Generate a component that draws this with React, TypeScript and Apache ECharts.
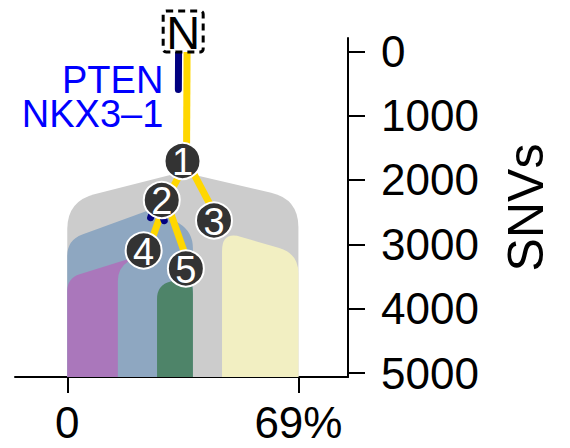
import React, { useEffect, useRef } from 'react';
import * as echarts from 'echarts';

// ---- axes ----
const xTickValues = [0, 69];
const xTickLabels = ['0', '69%'];
const yTickValues = [0, 1000, 2000, 3000, 4000, 5000];
const yAxisName = 'SNVs';
const xRange = [-15.6, 83.8];
const yRange = [-207, 5062];

// ---- tree nodes (x = cell fraction %, y = cumulative SNVs) ----
const nodeIds = ['N', '1', '2', '3', '4', '5'];
const nodeX = [34.6, 34.4, 28.2, 43.8, 22.8, 35.4];
const nodeSNV = [-308, 1705, 2311, 2630, 3096, 3376];
const edgeParent = ['N', '1', '1', '2', '2'];
const edgeChild = ['1', '2', '3', '4', '5'];

// ---- mutation marks on edges ----
const mutEdgeChild = ['1', '4', '5'];
const mutFromSNV = [-308, 2311, 2311];
const mutToSNV = [595, 2610, 2610];
const driverEdgeChild = '1';
const driverGenes = ['PTEN', 'NKX3–1'];

// ---- clone bells ----
const cloneIds = ['1', '2', '3', '4', '5'];
const cloneLeftX = [0, 0, 46.2, 0, 26.8];
const cloneLeftSNV = [2327, 2933, 2793, 3523, 3632];
const cloneApexX = [34.25, 26.2, 53.0, 20.2, 35.1];
const cloneApexSNV = [1876, 2435, 2902, 3197, 3523];
const cloneRightX = [69, 37.5, 69, 15.1, 37.5];
const cloneRightSNV = [2296, 2809, 3143, 3368, 3555];

// ---- styles ----
const FONT = 'Liberation Sans, Arial, Helvetica, sans-serif';
const cloneColor: Record<string, string> = {
  '1': '#CCCCCC',
  '2': '#8EA7C1',
  '3': '#F2EFC2',
  '4': '#AA77BB',
  '5': '#4E8469',
};
const cloneRadius: Record<string, number> = { '1': 28, '2': 16, '3': 20, '4': 13, '5': 14 };
const EDGE_COLOR = '#FFD700';
const MUT_COLOR = '#000080';
const EDGE_OFFSET = 4;
const MUT_OFFSET = -4.5;

function idx(id: string) {
  return nodeIds.indexOf(id);
}

function offsetSeg(p: number[], q: number[], off: number) {
  const dx = q[0] - p[0];
  const dy = q[1] - p[1];
  const len = Math.hypot(dx, dy) || 1;
  const nx = dy / len;
  const ny = -dx / len;
  return [p[0] + nx * off, p[1] + ny * off, q[0] + nx * off, q[1] + ny * off];
}

function toward(p: number[], q: number[], d: number) {
  const dx = q[0] - p[0];
  const dy = q[1] - p[1];
  const len = Math.hypot(dx, dy) || 1;
  const dd = Math.min(d, len * 0.9);
  return [p[0] + (dx / len) * dd, p[1] + (dy / len) * dd];
}

export default function App() {
  const ref = useRef<HTMLDivElement>(null);

  useEffect(() => {
    if (!ref.current) return;
    const chart = echarts.init(ref.current, undefined, { renderer: 'svg' });

    const option: any = {
      animation: false,
      textStyle: { fontFamily: FONT },
      grid: { left: 15, right: 222, top: 38, bottom: 71, containLabel: false, outerBoundsMode: 'none' },
      xAxis: {
        type: 'value',
        min: xRange[0],
        max: xRange[1],
        axisLine: { show: true, onZero: false, lineStyle: { color: '#000', width: 2 } },
        axisTick: { show: true, customValues: xTickValues, length: 16, lineStyle: { color: '#000', width: 2 } },
        axisLabel: {
          customValues: xTickValues,
          formatter: (v: number) => xTickLabels[xTickValues.indexOf(v)] ?? String(v),
          fontSize: 44,
          color: '#000',
          margin: 23,
          fontFamily: FONT,
        },
        splitLine: { show: false },
      },
      yAxis: {
        type: 'value',
        position: 'right',
        inverse: true,
        min: yRange[0],
        max: yRange[1],
        name: yAxisName,
        nameLocation: 'middle',
        nameRotate: 90,
        nameGap: 153,
        nameTextStyle: { fontSize: 50, color: '#000', fontFamily: FONT },
        axisLine: { show: true, onZero: false, lineStyle: { color: '#000', width: 2 } },
        axisTick: { show: true, customValues: yTickValues, length: 17, lineStyle: { color: '#000', width: 2 } },
        axisLabel: {
          customValues: yTickValues,
          formatter: (v: number) => String(v),
          fontSize: 44,
          color: '#000',
          margin: 33,
          fontFamily: FONT,
        },
        splitLine: { show: false },
      },
      series: [
        {
          type: 'custom',
          name: 'clones',
          coordinateSystem: 'cartesian2d',
          clip: false,
          data: cloneIds.map((_, i) => [i]),
          renderItem: (params: any, api: any) => {
            const i = params.dataIndex;
            const id = cloneIds[i];
            const L = api.coord([cloneLeftX[i], cloneLeftSNV[i]]);
            const A = api.coord([cloneApexX[i], cloneApexSNV[i]]);
            const R = api.coord([cloneRightX[i], cloneRightSNV[i]]);
            const bottom = api.coord([0, yRange[1]])[1];
            const r = cloneRadius[id];
            const La = [L[0], L[1] + r];
            const Lb = toward(L, A, r);
            const Rb = toward(R, A, r);
            const Ra = [R[0], R[1] + r];
            const d =
              `M${L[0]} ${bottom} L${La[0]} ${La[1]} Q${L[0]} ${L[1]} ${Lb[0]} ${Lb[1]} ` +
              `L${A[0]} ${A[1]} L${Rb[0]} ${Rb[1]} Q${R[0]} ${R[1]} ${Ra[0]} ${Ra[1]} ` +
              `L${R[0]} ${bottom} Z`;
            return { type: 'path', shape: { pathData: d }, style: { fill: cloneColor[id] } };
          },
        },
        {
          type: 'custom',
          name: 'edges',
          coordinateSystem: 'cartesian2d',
          clip: false,
          data: edgeChild.map((_, i) => [i]),
          renderItem: (params: any, api: any) => {
            const i = params.dataIndex;
            const p = idx(edgeParent[i]);
            const c = idx(edgeChild[i]);
            const P = api.coord([nodeX[p], nodeSNV[p]]);
            const C = api.coord([nodeX[c], nodeSNV[c]]);
            const s = offsetSeg(P, C, EDGE_OFFSET);
            return {
              type: 'line',
              shape: { x1: s[0], y1: s[1], x2: s[2], y2: s[3] },
              style: { stroke: EDGE_COLOR, lineWidth: 7 },
            };
          },
        },
        {
          type: 'custom',
          name: 'mutations',
          coordinateSystem: 'cartesian2d',
          clip: false,
          data: mutEdgeChild.map((_, i) => [i]),
          renderItem: (params: any, api: any) => {
            const i = params.dataIndex;
            const c = idx(mutEdgeChild[i]);
            const e = edgeChild.indexOf(mutEdgeChild[i]);
            const p = idx(edgeParent[e]);
            const P = api.coord([nodeX[p], nodeSNV[p]]);
            const C = api.coord([nodeX[c], nodeSNV[c]]);
            const y0 = api.coord([0, mutFromSNV[i]])[1];
            const y1 = api.coord([0, mutToSNV[i]])[1];
            const t0 = (y0 - P[1]) / (C[1] - P[1]);
            const t1 = (y1 - P[1]) / (C[1] - P[1]);
            const S = [P[0] + (C[0] - P[0]) * t0, y0];
            const E = [P[0] + (C[0] - P[0]) * t1, y1];
            const s = offsetSeg(S, E, MUT_OFFSET);
            const children: any[] = [
              {
                type: 'line',
                shape: { x1: s[0], y1: s[1], x2: s[2], y2: s[3] },
                style: { stroke: MUT_COLOR, lineWidth: 7, lineCap: 'round' },
              },
            ];
            if (mutEdgeChild[i] === driverEdgeChild) {
              driverGenes.forEach((g, k) => {
                children.push({
                  type: 'text',
                  x: s[2] - 15,
                  y: s[3] - 10 + k * 34.5,
                  style: {
                    text: g,
                    fill: '#0000FF',
                    fontSize: 38,
                    lineHeight: 32,
                    fontFamily: FONT,
                    align: 'right',
                    verticalAlign: 'middle',
                  },
                });
              });
            }
            return { type: 'group', children };
          },
        },
        {
          type: 'custom',
          name: 'nodes',
          coordinateSystem: 'cartesian2d',
          clip: false,
          data: nodeIds.map((_, i) => [i]),
          renderItem: (params: any, api: any) => {
            const i = params.dataIndex;
            const P = api.coord([nodeX[i], nodeSNV[i]]);
            if (nodeIds[i] === 'N') {
              return {
                type: 'group',
                children: [
                  {
                    type: 'rect',
                    shape: { x: P[0] - 20, y: P[1] - 20.5, width: 40, height: 41, r: 3 },
                    style: { fill: '#fff', stroke: '#000', lineWidth: 3, lineDash: [7, 5] },
                  },
                  {
                    type: 'text',
                    x: P[0],
                    y: P[1] + 1,
                    style: {
                      text: nodeIds[i],
                      fill: '#000',
                      fontSize: 47,
                      fontFamily: FONT,
                      align: 'center',
                      verticalAlign: 'middle',
                    },
                  },
                ],
              };
            }
            return {
              type: 'group',
              children: [
                {
                  type: 'circle',
                  shape: { cx: P[0], cy: P[1], r: 18 },
                  style: { fill: '#333333', stroke: '#ffffff', lineWidth: 2 },
                },
                {
                  type: 'text',
                  x: P[0],
                  y: P[1] + 1,
                  style: {
                    text: nodeIds[i],
                    fill: '#ffffff',
                    fontSize: 38,
                    fontFamily: FONT,
                    align: 'center',
                    verticalAlign: 'middle',
                  },
                },
              ],
            };
          },
        },
      ],
    };

    chart.setOption(option);
    return () => chart.dispose();
  }, []);

  return (
    <div
      ref={ref}
      style={{ position: 'fixed', left: 0, top: 0, width: 570, height: 448, background: '#fff' }}
    />
  );
}
